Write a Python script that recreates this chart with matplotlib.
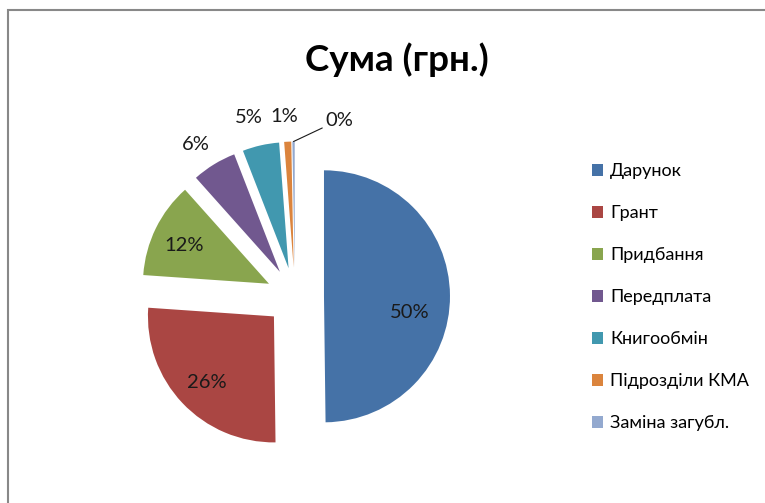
import matplotlib.pyplot as plt
from matplotlib.patches import Rectangle, Patch
import numpy as np

plt.rcParams['font.family'] = ['Lato', 'DejaVu Sans']

title = "Сума (грн.)"
categories = ["Дарунок", "Грант", "Придбання", "Передплата", "Книгообмін",
              "Підрозділи КМА", "Заміна загубл."]
values = [49.8, 26.3, 12.3, 5.7, 4.7, 0.9, 0.3]
colors = ["#4572A7", "#AA4643", "#89A54E", "#71588F", "#4198AF", "#DB843D", "#93A9CF"]

# label placement (distance from wedge apex, angle tweak in degrees)
label_r = [0.69, 0.75, 0.74, 1.21, 1.24, 1.20]
label_dang = [-11, 1, 2, 2, 2, 1]

W, H = 765, 503
fig = plt.figure(figsize=(W / 100, H / 100), dpi=100)

# axes laid out in pixels: pie centre at (295, 206.5) from bottom-left, 126 px per unit
ax_w, ax_h = 600, 470
scale = 126.0
cx, cy = 295.0, 206.5
ax = fig.add_axes([0, 0, ax_w / W, ax_h / H])

wedges, _ = ax.pie(values, colors=colors, startangle=90, counterclock=False,
                   explode=[0.23] * len(values), radius=1,
                   wedgeprops=dict(linewidth=0))
ax.set_xlim(-cx / scale, (ax_w - cx) / scale)
ax.set_ylim(-cy / scale, (ax_h - cy) / scale)
ax.set_aspect('equal', adjustable='box')
ax.axis('off')

total = sum(values)
for i, w in enumerate(wedges):
    pct = f"{round(values[i] / total * 100)}%"
    wx, wy = w.center
    mid = (w.theta1 + w.theta2) / 2
    if i < len(label_r):
        a = np.deg2rad(mid + label_dang[i])
        ax.text(wx + label_r[i] * np.cos(a), wy + label_r[i] * np.sin(a), pct,
                ha='center', va='center', fontsize=14.5, color='#1a1a1a')
    else:
        a = np.deg2rad(mid)
        tip = (wx + np.cos(a), wy + np.sin(a))
        ax.annotate(pct, xy=tip, xytext=(tip[0] + 0.25, tip[1] + 0.17),
                    ha='left', va='center', fontsize=14.5, color='#1a1a1a',
                    arrowprops=dict(arrowstyle='-', color='#1a1a1a', lw=0.8,
                                    shrinkA=0, shrinkB=0))

fig.text(397 / W, 1 - 60 / H, title, ha='center', va='center',
         fontsize=26.5, fontweight='bold')

handles = [Patch(facecolor=c, edgecolor='none') for c in colors]
fig.legend(handles, categories, loc='upper left',
           bbox_to_anchor=(585 / W, 1 - 156 / H), frameon=False,
           fontsize=13, handlelength=0.6, handleheight=0.6,
           handletextpad=0.4, labelspacing=1.44, borderaxespad=0)

fig.add_artist(Rectangle((8 / W, -0.1), 1.0, (493 / H) + 0.1,
                         transform=fig.transFigure, fill=False,
                         edgecolor='#888888', lw=1.5))

fig.savefig("out.png", dpi=100, facecolor='white')
